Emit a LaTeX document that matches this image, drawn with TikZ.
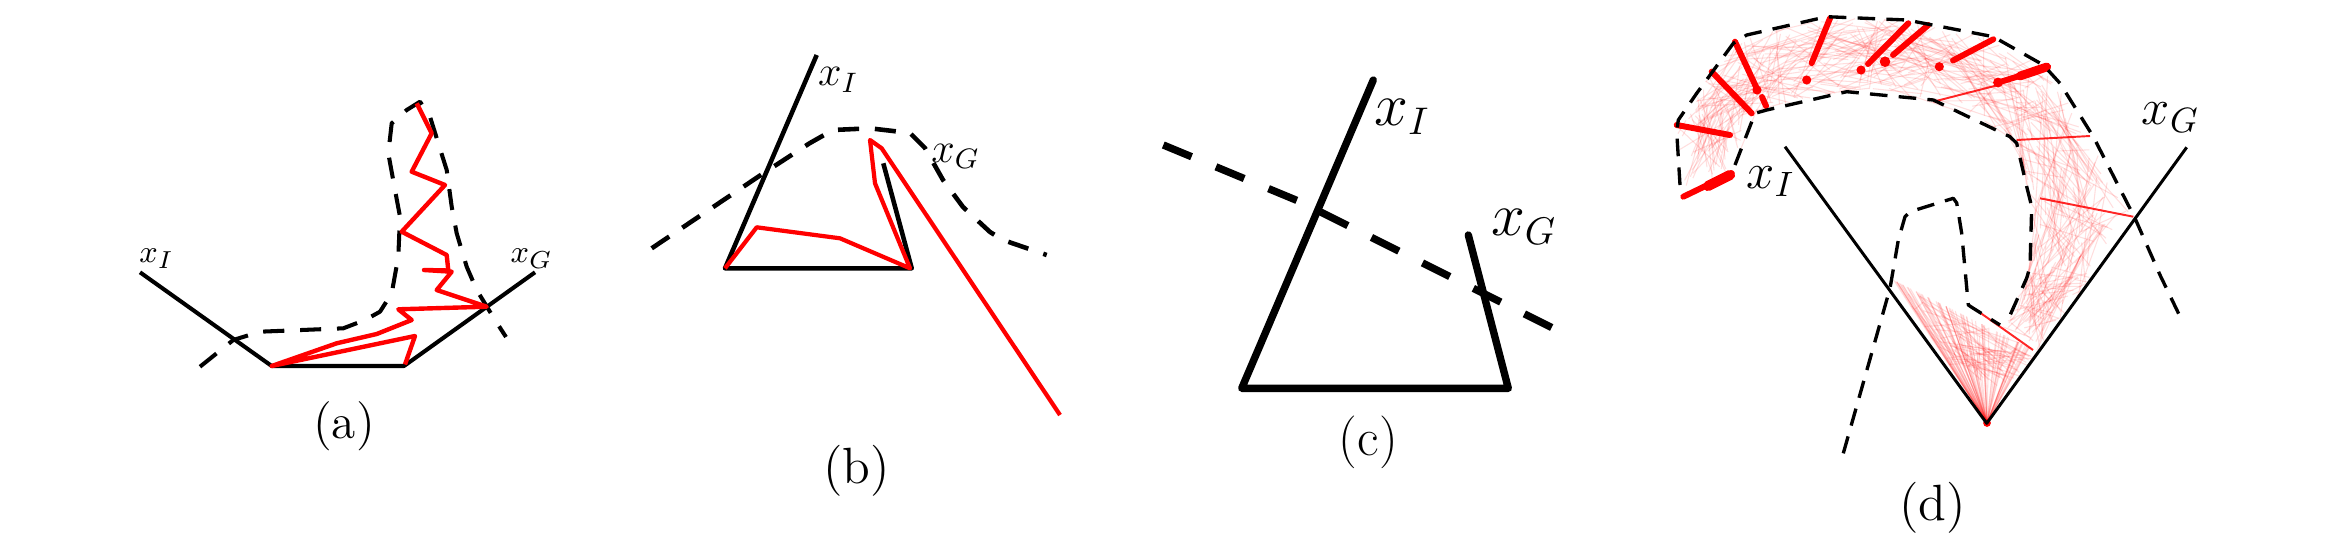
\documentclass[tikz,border=0pt]{standalone}
\usepackage{tikz}
\usetikzlibrary{calc}
\tikzset{
	obst/.style={black, line width=#1, line join=round},
	bound/.style={black, line width=#1, line join=round},
	traj/.style={red, line width=#1, line join=round},
	faint/.style={red, opacity=0.13, line width=0.3pt},
	edge/.style={red, opacity=0.85, line width=0.55pt},
	blob/.style={red, line width=#1, line cap=round},
	lbl/.style={inner sep=0pt},
}
\begin{document}
\begin{tikzpicture}[x=0.01cm, y=-0.01cm]
		%%%%% START %%%%%
		\useasboundingbox (0, 0) rectangle (2342, 551);
		
		%% (a)
		\draw[bound=1.15pt, dash pattern=on 6pt off 4.5pt] (200, 366.7) -- (233.3, 340) -- (260, 331.7) -- (343.3, 328.3) -- (365, 320) -- (380, 311.7) -- (391.7, 293.3) -- (398.3, 256.7) -- (400, 216.7) -- (395, 190) -- (388.3, 153.3) -- (391.7, 123.3) -- (406.7, 110) -- (420, 101.7) -- (430, 116.7) -- (438.3, 143.3) -- (446.7, 170) -- (451.7, 206.7) -- (456.7, 233.3) -- (466.7, 266.7) -- (476.7, 290) -- (495, 320) -- (506, 337);
		\draw[obst=1.15pt] (140, 272.3) -- (271.7, 366) -- (404, 366) -- (535, 272.3);
		\draw[traj=1.25pt] (416.7, 103.3) -- (431.7, 133.3) -- (411.7, 171.7) -- (445, 185) -- (401.7, 231.7) -- (446.7, 255) -- (448.3, 270.5) -- (424, 270) -- (451.7, 271.7) -- (436.7, 290) -- (486.7, 306.7) -- (398.3, 309.3) -- (411.7, 320) -- (376.7, 334) -- (336.7, 343.3) -- (271.7, 366) -- (415, 336) -- (405, 364.5);
		
		\node[lbl, font=\fontsize{9.5}{11}\selectfont] (xIa) at (156.7, 258.3) {$x_I$};
		\node[lbl, font=\fontsize{9.5}{11}\selectfont] (xGa) at (531.7, 259) {$x_G$};
		\node[lbl, font=\fontsize{14}{16}\selectfont] (capa) at (344, 426.7) {(a)};
		
		%% (b)
		\draw[bound=1.3pt, dash pattern=on 6pt off 4.5pt] (651.7, 248.3) -- (763.3, 173.3) -- (810, 143) -- (833, 130) -- (870, 128.3) -- (910, 133) -- (925, 148) -- (943, 180) -- (963, 207) -- (990, 232) -- (1003, 240) -- (1046.7, 255);
		\draw[obst=1.3pt] (816.7, 55) -- (725, 268.3) -- (911.7, 268.3) -- (883.3, 163.3);
		\draw[traj=1.2pt] (725, 268.3) -- (756.7, 227.3) -- (840, 238.3) -- (910, 268.3) -- (875, 183.3) -- (870, 140) -- (881.7, 148.3) -- (1060, 415);
		
		\node[lbl, font=\fontsize{11.5}{13}\selectfont] (xIb) at (838.3, 80) {$x_I$};
		\node[lbl, font=\fontsize{11.5}{13}\selectfont] (xGb) at (955.7, 156.7) {$x_G$};
		\node[lbl, font=\fontsize{14.5}{17}\selectfont] (capb) at (856.7, 470.8) {(b)};
		
		%% (c)
		\draw[bound=2.1pt, dash pattern=on 8.7pt off 7.5pt] (1163.3, 145) -- (1300, 201.7) -- (1573.3, 338.3);
		\draw[obst=2.1pt, line cap=round] (1373.3, 80) -- (1241.7, 388.3) -- (1508.3, 388.3) -- (1468.3, 235);
		
		\node[lbl, font=\fontsize{16}{18}\selectfont] (xIc) at (1402.3, 116.7) {$x_I$};
		\node[lbl, font=\fontsize{16}{18}\selectfont] (xGc) at (1524, 227.3) {$x_G$};
		\node[lbl, font=\fontsize{15}{17}\selectfont] (capc) at (1368.3, 442.5) {(c)};
		
		%% (d)
		\foreach \k/\ox/\oy/\nx/\ny in {0/1683/192/1733/172, 1/1677/128/1745/135, 2/1705/82/1760/110, 3/1740/40/1790/103, 4/1800/22/1840/93, 5/1860/17/1880/93, 6/1920/22/1925/99, 7/1990/36/1975/118, 8/2045/66/2013/140, 9/2090/133/2027/190, 10/2133/216/2032/230, 11/2095/275/2028/275, 12/2038/352/2002/327}
		{
			\coordinate (o\k) at (\ox, \oy);
			\coordinate (n\k) at (\nx, \ny);
		}
		\coordinate (dR) at (1987, 423);
		\coordinate (fA) at (1893, 280);
		\coordinate (fB) at (2038, 352);
		
		\pgfmathsetseed{11}
		\foreach \k in {0,...,11}
		{
			\pgfmathtruncatemacro{\ka}{\k+1}
			\pgfmathtruncatemacro{\kb}{min(\k+1,11)}
			\pgfmathtruncatemacro{\kc}{\kb+1}
			\foreach \j in {1,...,42}
			{
				\pgfmathsetmacro{\ua}{rnd}
				\pgfmathsetmacro{\va}{rnd}
				\pgfmathsetmacro{\ub}{rnd}
				\pgfmathsetmacro{\vb}{rnd}
				\draw[faint] ($($(o\k)!\ua!(o\ka)$)!\va!($(n\k)!\ua!(n\ka)$)$) -- ($($(o\kb)!\ub!(o\kc)$)!\vb!($(n\kb)!\ub!(n\kc)$)$);
			}
		}
		\foreach \j in {1,...,70}
		{
			\pgfmathsetmacro{\ua}{rnd}
			\draw[faint] (dR) -- ($(fA)!\ua!(fB)$);
		}
		\foreach \j in {1,...,70}
		{
			\pgfmathsetmacro{\ua}{rnd}
			\pgfmathsetmacro{\va}{0.6*rnd}
			\pgfmathsetmacro{\ub}{rnd}
			\pgfmathsetmacro{\vb}{0.6*rnd}
			\draw[faint] ($($(fA)!\ua!(fB)$)!\va!(dR)$) -- ($($(fA)!\ub!(fB)$)!\vb!(dR)$);
		}
		
		\draw[edge] (2016.7, 140) -- (2090, 136);
		\draw[edge] (2040, 198.3) -- (2133.3, 216.7);
		\draw[edge] (1998.3, 85) -- (1933.3, 101.7);
		\draw[edge] (1972, 307) -- (2033, 350);
		
		\draw[blob=1.7pt] (1683.3, 196.7) -- (1731.7, 173.3);
		\draw[blob=2.9pt] (1708, 186) -- (1730, 175);
		\draw[blob=1.7pt] (1676.7, 125) -- (1730, 135);
		\draw[blob=1.7pt] (1711.7, 71.7) -- (1751.7, 113.3);
		\draw[blob=1.7pt] (1735, 41.7) -- (1757.5, 90);
		\draw[blob=1.7pt] (1762, 97) -- (1766, 106);
		\draw[blob=1.7pt] (1830, 18.3) -- (1811.7, 63);
		\draw[blob=1.7pt] (1908.3, 23.3) -- (1868, 64);
		\draw[blob=1.7pt] (1928.3, 25) -- (1893, 55);
		\draw[blob=1.7pt] (1993.3, 39.3) -- (1953, 60.5);
		\draw[blob=1.7pt] (2046.7, 67.5) -- (2000, 82);
		\draw[blob=2.5pt] (2046.7, 67) -- (2020, 76);
		\fill[red] (1806.7, 80) circle (1.3pt);
		\fill[red] (1861, 70) circle (1.3pt);
		\fill[red] (1885, 61.7) circle (1.5pt);
		\fill[red] (1939.3, 66.7) circle (1.3pt);
		\fill[red] (1998, 82.5) circle (1.4pt);
		\fill[red] (1757, 90) circle (1.3pt);
		\fill[red] (dR) circle (1.1pt);
		
		\draw[bound=0.95pt, dash pattern=on 5pt off 3.2pt] (1680, 185) -- (1676.7, 131.7) -- (1678.3, 120) -- (1696.7, 93.3) -- (1733.3, 43.3) -- (1746.7, 35) -- (1826.7, 16.7) -- (1906.7, 20) -- (1993.3, 36.7) -- (2043.3, 65) -- (2060, 83.3) -- (2093.3, 136.7) -- (2135, 218.3) -- (2160, 275) -- (2181.7, 320);
		\draw[bound=0.95pt, dash pattern=on 5pt off 3.2pt] (1735, 165) -- (1755, 113.3) -- (1766.7, 110) -- (1846.7, 91.7) -- (1933.3, 100) -- (2010, 136.7) -- (2016.7, 143.3) -- (2026.7, 186.7) -- (2031.7, 206.7) -- (2030, 266.7) -- (2026.7, 278) -- (2007, 322);
		\draw[bound=0.95pt, dash pattern=on 5pt off 3.2pt] (1843.3, 453.3) -- (1890, 288.3) -- (1898.3, 240) -- (1905, 216.7) -- (1910, 211.7) -- (1953.3, 198.3) -- (1956.7, 203) -- (1961.7, 233.3) -- (1968.3, 305) -- (1972, 307.5) -- (2000, 325);
		\draw[obst=0.85pt] (1785, 146.7) -- (1986.7, 423.3) -- (2186.7, 147.3);
		
		\node[lbl, font=\fontsize{14}{16}\selectfont] (xId) at (1770.7, 181.7) {$x_I$};
		\node[lbl, font=\fontsize{14}{16}\selectfont] (xGd) at (2170.7, 117.3) {$x_G$};
		\node[lbl, font=\fontsize{14.5}{17}\selectfont] (capd) at (1932.3, 507.5) {(d)};
		
		%%%%% END %%%%%
	\end{tikzpicture}
\end{document}
